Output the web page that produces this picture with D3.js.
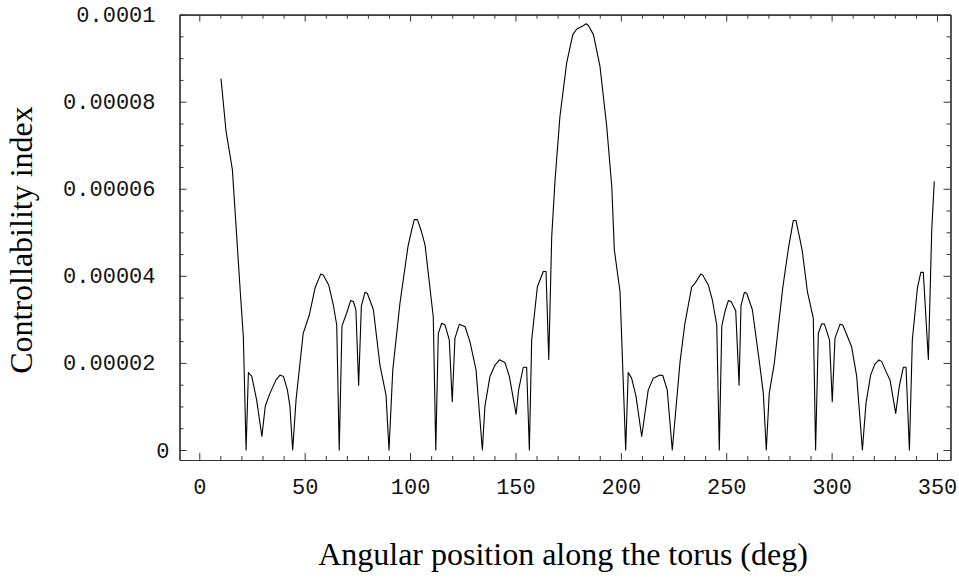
<!DOCTYPE html>
<html>
<head>
<meta charset="utf-8">
<script src="https://cdn.jsdelivr.net/npm/d3@7/dist/d3.min.js"></script>
<style>
  body { margin: 0; background: #fff; }
  svg { display: block; }
</style>
</head>
<body>
<div id="chart"></div>
<script>
// angular position (deg)
var angleDeg = [
  10.3, 12.7, 15.7, 19.6, 20.9, 22.2, 23.3, 24.9, 27.2, 29.7, 31.3, 33.5, 36.4, 38.3, 39.9, 41.8, 43.0, 44.3,
  45.9, 49.3, 52.2, 54.9, 57.6, 58.8, 61.4, 63.6, 65.2, 66.4, 67.7, 69.9, 71.8, 73.1, 74.3, 75.6, 76.9, 78.6,
  79.7, 82.6, 85.7, 88.6, 90.0, 91.8, 95.2, 99.0, 100.8, 102.0, 103.5, 105.5, 107.1, 111.0, 112.2,
  113.4, 115.0, 116.6, 118.6, 120.0, 121.3, 123.4, 126.1, 128.4, 131.3, 134.3, 135.5, 137.9, 140.3, 142.4,
  145.0, 147.1, 150.3, 151.5, 153.7, 155.3, 156.6, 157.7, 160.4, 163.2, 164.5, 165.8, 167.2, 168.8, 171.1,
  174.3, 177.2, 179.1, 181.7, 183.5, 184.6, 187.0, 190.1, 193.3, 195.7, 196.9, 199.6, 202.3, 203.5, 205.1,
  207.2, 209.9, 213.0, 215.4, 218.6, 219.9, 222.0, 224.4, 228.1, 230.4, 233.6, 235.2, 237.9, 238.8, 241.5,
  243.4, 245.5, 246.7, 247.9, 249.4, 251.0, 252.3, 254.5, 256.1, 257.0, 258.6, 259.7, 262.4, 266.0, 267.6,
  269.0, 270.4, 272.8, 276.8, 279.4, 281.8, 283.1, 285.0, 286.1, 288.5, 291.3, 292.4, 293.7, 295.3, 296.6,
  299.0, 300.3, 301.6, 304.0, 305.3, 309.5, 311.9, 314.6, 316.3, 318.5, 320.6, 322.5, 323.8, 325.8, 327.7,
  330.4, 332.1, 334.0, 335.3, 336.9, 338.3, 340.7, 342.3, 343.5, 345.9, 347.5, 348.7
];

// controllability index, in units of 1e-5
var indexE5 = [
  8.53, 7.32, 6.44, 3.52, 2.60, 0.00, 1.78, 1.69, 1.15, 0.31, 1.01, 1.30, 1.61, 1.72, 1.69, 1.38, 1.00, 0.00,
  1.15, 2.68, 3.10, 3.72, 4.04, 4.02, 3.79, 3.33, 2.87, 0.00, 2.85, 3.14, 3.43, 3.41, 3.22, 1.49, 3.31, 3.62,
  3.60, 3.22, 1.95, 1.26, 0.00, 1.84, 3.37, 4.67, 5.06, 5.29, 5.29, 5.00, 4.71, 3.06, 0.00,
  2.68, 2.91, 2.87, 2.53, 1.11, 2.57, 2.89, 2.83, 2.49, 1.84, 0.00, 1.00, 1.69, 1.95, 2.07,
  2.01, 1.69, 0.82, 1.38, 1.90, 1.90, 0.00, 2.53, 3.75, 4.10, 4.10, 2.08, 4.90, 6.21, 7.66,
  8.89, 9.54, 9.67, 9.73, 9.79, 9.75, 9.54, 8.81, 7.43, 6.05, 4.60, 3.64, 0.00, 1.78, 1.65,
  1.23, 0.31, 1.38, 1.65, 1.72, 1.71, 1.38, 0.00, 2.03, 2.91, 3.74, 3.83, 4.04, 4.02, 3.79,
  3.45, 2.87, 0.00, 2.85, 3.18, 3.43, 3.41, 3.20, 1.49, 3.31, 3.62, 3.60, 3.22, 1.92, 1.30,
  0.00, 1.30, 1.99, 3.72, 4.60, 5.27, 5.27, 4.83, 4.56, 3.64, 3.03, 0.00, 2.68, 2.90, 2.89,
  2.53, 1.11, 2.57, 2.89, 2.87, 2.37, 1.69, 0.00, 1.07, 1.72, 1.98, 2.07, 2.03, 1.80, 1.61,
  0.84, 1.46, 1.90, 1.90, 0.00, 2.53, 3.72, 4.08, 4.08, 2.08, 5.06, 6.17
];

var xMajorTicks = [0, 50, 100, 150, 200, 250, 300, 350];
var xMinorTicks = d3.range(10, 350, 10).filter(function (v) { return v % 50 !== 0; });
var yMajorTicks = [0, 0.00002, 0.00004, 0.00006, 0.00008, 0.0001];
var yTickLabels = ["0", "0.00002", "0.00004", "0.00006", "0.00008", "0.0001"];
var yMinorTicks = d3.range(1, 20).filter(function (v) { return v % 4 !== 0; }).map(function (v) { return v * 0.000005; });

var xTitle = "Angular position along the torus (deg)";
var yTitle = "Controllability index";

var width = 959, height = 579;
var plotLeft = 179.5, plotRight = 950.5, plotTop = 14.6, plotBottom = 460;

var data = angleDeg.map(function (a, i) {
  return { x: a, y: indexE5[i] * 1e-5 };
});

var x = d3.scaleLinear().domain([-9.39, 356.4]).range([plotLeft, plotRight]);
var y = d3.scaleLinear().domain([-0.0000023, 0.0001]).range([plotBottom, plotTop]);

var svg = d3.select("#chart").append("svg")
    .attr("width", width)
    .attr("height", height);

var tickFont = "'Liberation Mono', 'Courier New', monospace";
var titleFont = "'Liberation Serif', 'Times New Roman', serif";

function styleAxis(g) {
  g.selectAll(".domain").attr("stroke", "#333").attr("stroke-width", 1.2);
  g.selectAll(".tick line").attr("stroke", "#333").attr("stroke-width", 1);
  g.selectAll("text").attr("font-family", tickFont).attr("font-size", 22).attr("fill", "#111");
}

// bottom
svg.append("g")
    .attr("transform", "translate(0," + plotBottom + ")")
    .call(d3.axisBottom(x).tickValues(xMajorTicks).tickSize(-7).tickSizeOuter(0).tickPadding(18)
      .tickFormat(d3.format("d")))
    .call(styleAxis);
svg.append("g")
    .attr("transform", "translate(0," + plotBottom + ")")
    .call(d3.axisBottom(x).tickValues(xMinorTicks).tickSize(-4).tickSizeOuter(0).tickFormat(""))
    .call(styleAxis);

// top
svg.append("g")
    .attr("transform", "translate(0," + plotTop + ")")
    .call(d3.axisTop(x).tickValues(xMajorTicks).tickSize(-7).tickSizeOuter(0).tickFormat(""))
    .call(styleAxis);
svg.append("g")
    .attr("transform", "translate(0," + plotTop + ")")
    .call(d3.axisTop(x).tickValues(xMinorTicks).tickSize(-4).tickSizeOuter(0).tickFormat(""))
    .call(styleAxis);

// left
var leftAxis = svg.append("g")
    .attr("transform", "translate(" + plotLeft + ",0)")
    .call(d3.axisLeft(y).tickValues(yMajorTicks).tickSize(-7).tickSizeOuter(0).tickPadding(24)
      .tickFormat(function (d, i) { return yTickLabels[i]; }))
    .call(styleAxis);
leftAxis.selectAll(".tick text").filter(function (d) { return d === 0; }).attr("x", -10);
svg.append("g")
    .attr("transform", "translate(" + plotLeft + ",0)")
    .call(d3.axisLeft(y).tickValues(yMinorTicks).tickSize(-4).tickSizeOuter(0).tickFormat(""))
    .call(styleAxis);

// right
svg.append("g")
    .attr("transform", "translate(" + plotRight + ",0)")
    .call(d3.axisRight(y).tickValues(yMajorTicks).tickSize(-7).tickSizeOuter(0).tickFormat(""))
    .call(styleAxis);
svg.append("g")
    .attr("transform", "translate(" + plotRight + ",0)")
    .call(d3.axisRight(y).tickValues(yMinorTicks).tickSize(-4).tickSizeOuter(0).tickFormat(""))
    .call(styleAxis);

var line = d3.line()
    .x(function (d) { return x(d.x); })
    .y(function (d) { return y(d.y); });

svg.append("path")
    .datum(data)
    .attr("fill", "none")
    .attr("stroke", "#000")
    .attr("stroke-width", 1.1)
    .attr("stroke-linejoin", "round")
    .attr("d", line);

svg.append("text")
    .attr("x", (plotLeft + plotRight) / 2 - 2)
    .attr("y", 565)
    .attr("text-anchor", "middle")
    .attr("font-family", titleFont)
    .attr("font-size", 32)
    .attr("fill", "#000")
    .text(xTitle);

svg.append("text")
    .attr("transform", "translate(32," + 240 + ") rotate(-90)")
    .attr("text-anchor", "middle")
    .attr("font-family", titleFont)
    .attr("font-size", 32)
    .attr("fill", "#000")
    .text(yTitle);
</script>
</body>
</html>
